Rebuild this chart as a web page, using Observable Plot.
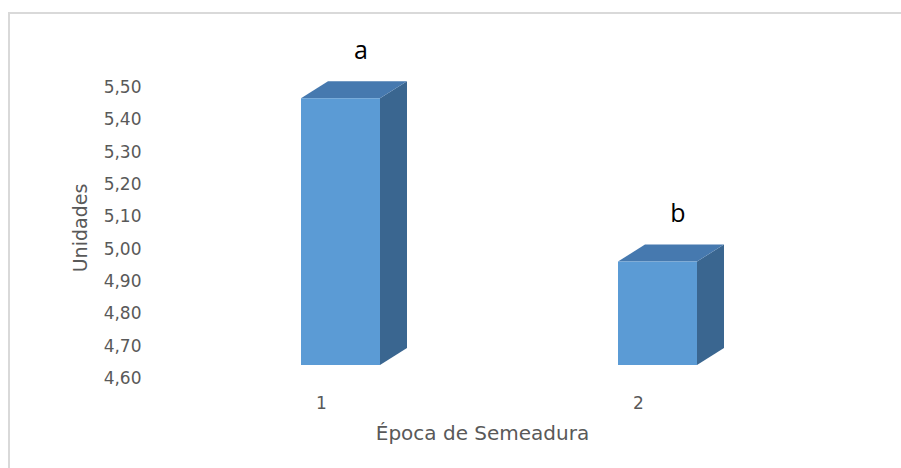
<!DOCTYPE html>
<html><head><meta charset="utf-8">
<script src="https://cdn.jsdelivr.net/npm/d3@7"></script>
<script src="https://cdn.jsdelivr.net/npm/@observablehq/plot@0.6"></script>
<style>
html,body{margin:0;padding:0;background:#fff;overflow:hidden;}
#wrap{position:relative;width:901px;height:468px;overflow:hidden;background:#fff;}
#frame{position:absolute;left:8px;top:12px;width:1000px;height:1000px;border-top:2px solid #d9d9d9;border-left:2px solid #d9d9d9;}
#chart{position:absolute;left:0;top:0;}
</style></head><body>
<div id="wrap"><div id="frame"></div><div id="chart"></div></div>
<script>
// ---- data ----
const categories = ["1", "2"];
const values = [5.425, 4.92];
const letters = ["a", "b"];
const yTicks = [4.6, 4.7, 4.8, 4.9, 5.0, 5.1, 5.2, 5.3, 5.4, 5.5];
const yBase = 4.6;
const xTitle = "Época de Semeadura";
const yTitle = "Unidades";

const data = categories.map((c, i) => ({cat: c, value: values[i], letter: letters[i]}));

// 3D look (pixel offsets)
const depthX = 27, depthY = -17, lift = -13;
const frontColor = "#5B9BD5", topColor = "#4679AF", sideColor = "#3A6690";

function faces(index, scales, vals, dimensions, context) {
  const doc = (context && context.document) || document;
  const g = d3.select(doc.createElementNS("http://www.w3.org/2000/svg", "g"));
  const x = scales.x, y = scales.y;
  const bw = typeof x.bandwidth === "function" ? x.bandwidth() : scales.scales.x.bandwidth;
  for (const d of data) {
    const xl = x(d.cat), xr = xl + bw;
    const yt = y(d.value) + lift, yb = y(yBase) + lift;
    g.append("polygon")
      .attr("points", [[xr, yt], [xr + depthX, yt + depthY], [xr + depthX, yb + depthY], [xr, yb]].map(p => p.join(",")).join(" "))
      .attr("fill", sideColor);
    g.append("polygon")
      .attr("points", [[xl, yt], [xl + depthX, yt + depthY], [xr + depthX, yt + depthY], [xr, yt]].map(p => p.join(",")).join(" "))
      .attr("fill", topColor);
  }
  return g.node();
}

const fmt = d => d.toFixed(2).replace(".", ",");

const chart = Plot.plot({
  width: 901,
  height: 468,
  marginTop: 87,
  marginBottom: 90,
  marginLeft: 142.5,
  marginRight: 45.5,
  style: {fontFamily: "'DejaVu Sans', sans-serif", fontSize: "17px", color: "#595959", background: "transparent", overflow: "visible"},
  x: {type: "band", domain: categories, paddingInner: 0.751, paddingOuter: 0.5, axis: null},
  y: {domain: [4.6, 5.5], axis: null},
  marks: [
    faces,
    Plot.barY(data, {x: "cat", y1: () => yBase, y2: "value", fill: frontColor, dy: lift}),
    Plot.axisY(yTicks, {tickSize: 0, tickPadding: 1.5, tickFormat: fmt, fontSize: 17, fill: "#595959", label: null}),
    Plot.axisX(categories, {tickSize: 0, tickPadding: 18, dx: -19.5, fontSize: 17, fill: "#595959", label: null}),
    Plot.text(data, {x: "cat", y: "value", text: "letter", dx: 20, dy: -61, fontSize: 25, fill: "#000", fontFamily: "'Open Sans', sans-serif"}),
    Plot.text([xTitle], {text: d => d, frameAnchor: "bottom", textAnchor: "middle", lineAnchor: "middle", dx: -17, dy: 55, fontSize: 20, fill: "#595959"}),
    Plot.text([yTitle], {text: d => d, frameAnchor: "left", textAnchor: "middle", lineAnchor: "middle", rotate: -90, dx: -62, dy: -5, fontSize: 19, fill: "#595959"})
  ]
});
document.getElementById("chart").appendChild(chart);
</script>
</body></html>
